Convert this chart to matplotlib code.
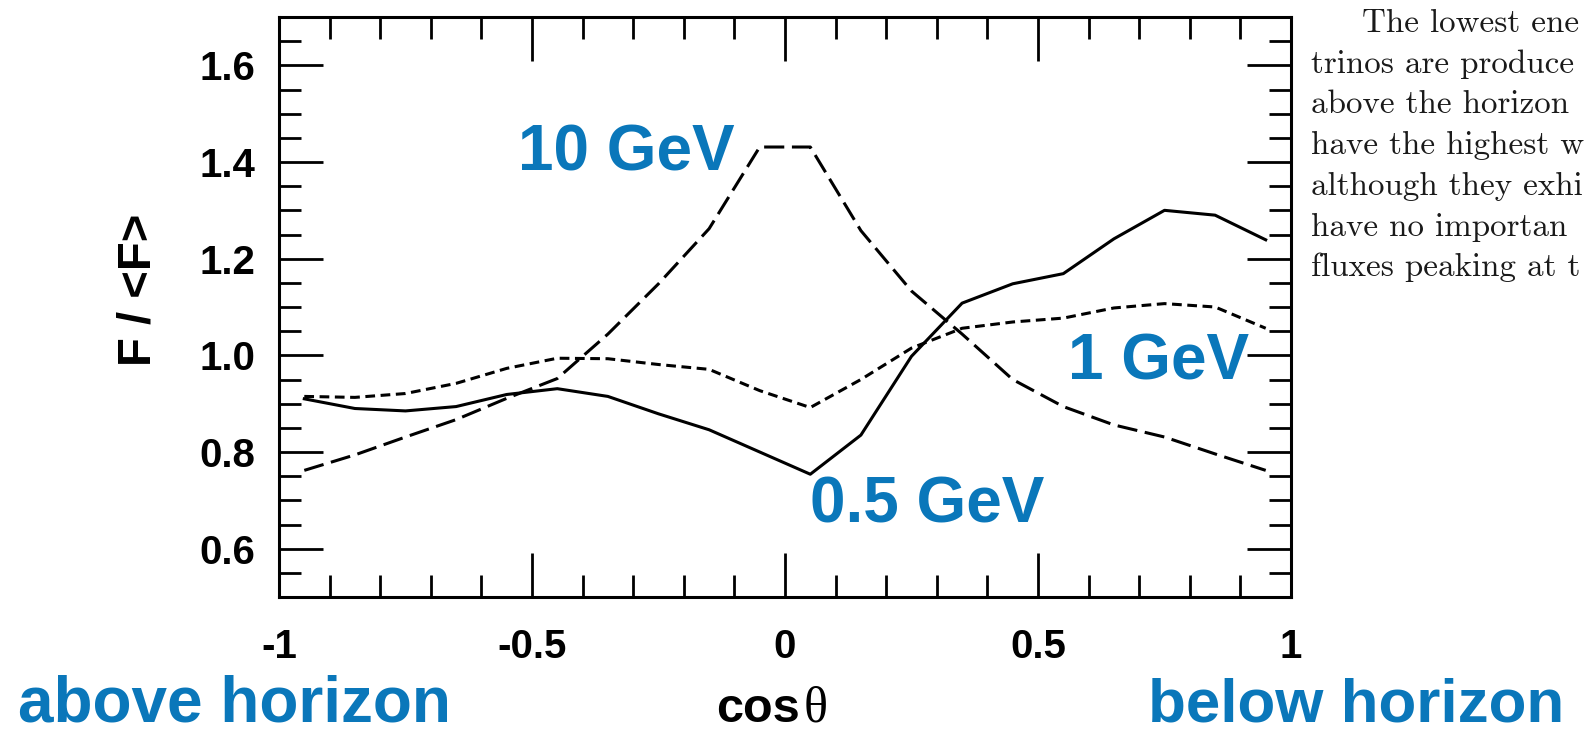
import matplotlib
matplotlib.use("Agg")
import matplotlib.pyplot as plt
from matplotlib.ticker import MultipleLocator

# ---- data ----
cos_theta = [-0.95, -0.85, -0.75, -0.65, -0.55, -0.45, -0.35, -0.25, -0.15, -0.05,
             0.05, 0.15, 0.25, 0.35, 0.45, 0.55, 0.65, 0.75, 0.85, 0.95]
flux_05gev = [0.910, 0.890, 0.885, 0.894, 0.919, 0.931, 0.915, 0.879, 0.846, 0.800,
              0.754, 0.835, 0.998, 1.108, 1.148, 1.169, 1.241, 1.300, 1.290, 1.239]
flux_1gev = [0.915, 0.913, 0.921, 0.942, 0.973, 0.994, 0.993, 0.981, 0.971, 0.927,
             0.892, 0.950, 1.015, 1.056, 1.069, 1.077, 1.098, 1.107, 1.100, 1.056]
flux_10gev = [0.762, 0.794, 0.831, 0.867, 0.911, 0.952, 1.044, 1.148, 1.262, 1.431,
              1.431, 1.258, 1.133, 1.044, 0.950, 0.894, 0.856, 0.831, 0.796, 0.762]

xticks = [-1, -0.5, 0, 0.5, 1]
xtick_labels = ["-1", "-0.5", "0", "0.5", "1"]
yticks = [0.6, 0.8, 1.0, 1.2, 1.4, 1.6]
ytick_labels = ["0.6", "0.8", "1.0", "1.2", "1.4", "1.6"]

paper_lines = ["The lowest ene", "trinos are produce", "above the horizon",
               "have the highest w", "although they exhi", "have no importan",
               "fluxes peaking at t"]

blue = "#0a77ba"
sans = "Liberation Sans"

plt.rcParams['lines.scale_dashes'] = False
plt.rcParams['axes.unicode_minus'] = False

W, H = 1584, 733
fig = plt.figure(figsize=(W / 100, H / 100), dpi=100)
ax = fig.add_axes([279 / W, 1 - 597 / H, (1291 - 279) / W, (597 - 17) / H])

ax.plot(cos_theta, flux_05gev, color="black", lw=2.2, linestyle="-")
ax.plot(cos_theta, flux_1gev, color="black", lw=2.2, dashes=(7, 4))
ax.plot(cos_theta, flux_10gev, color="black", lw=2.2, dashes=(14.5, 5.5))

ax.set_xlim(-1, 1)
ax.set_ylim(0.5, 1.7)
ax.set_xticks(xticks, labels=xtick_labels)
ax.set_yticks(yticks, labels=ytick_labels)
ax.xaxis.set_minor_locator(MultipleLocator(0.1))
ax.yaxis.set_minor_locator(MultipleLocator(0.05))
ax.tick_params(which="both", direction="in", top=True, right=True, width=2, colors="black")
ax.tick_params(which="major", length=32)
ax.tick_params(which="minor", length=16)
ax.tick_params(axis="y", which="major", pad=17)
ax.tick_params(axis="x", which="major", pad=22)
for lab in ax.get_xticklabels() + ax.get_yticklabels():
    lab.set_fontfamily(sans)
    lab.set_fontweight("bold")
    lab.set_fontsize(29)
for sp in ax.spines.values():
    sp.set_linewidth(2.2)

ax.set_ylabel("F / <F>", fontsize=34, fontweight="bold", family=sans)
ax.yaxis.set_label_coords(-0.117, 0.53)

# curve labels
ax.text(-0.10, 1.383, "10 GeV", color=blue, fontsize=46, fontweight="bold",
        family=sans, ha="right", va="baseline")
ax.text(0.918, 0.95, "1 GeV", color=blue, fontsize=46, fontweight="bold",
        family=sans, ha="right", va="baseline")
ax.text(0.05, 0.654, "0.5 GeV", color=blue, fontsize=46, fontweight="bold",
        family=sans, ha="left", va="baseline")

# x label: bold "cos" + serif theta
fig.text(800 / W, 1 - 722 / H, "cos", fontsize=35, fontweight="bold", family=sans,
         ha="right", va="baseline")
fig.text(804 / W, 1 - 722 / H, "\u03b8", fontsize=36, family="Liberation Serif",
         ha="left", va="baseline")

fig.text(18 / W, 1 - 721 / H, "above horizon", color=blue, fontsize=46,
         fontweight="bold", family=sans, ha="left", va="baseline")
fig.text(1564 / W, 1 - 721 / H, "below horizon", color=blue, fontsize=44.6,
         fontweight="bold", family=sans, ha="right", va="baseline")

# surrounding paper text, sized so the longest lines end at the right edge
for i, line in enumerate(paper_lines):
    x0 = 1362 if i == 0 else 1311
    fig.text(x0 / W, 1 - (32 + 40.7 * i) / H, line, fontsize=23.8, family="cmr10",
             ha="left", va="baseline", color="#1a1a1a")

fig.savefig("out.png", dpi=100)
